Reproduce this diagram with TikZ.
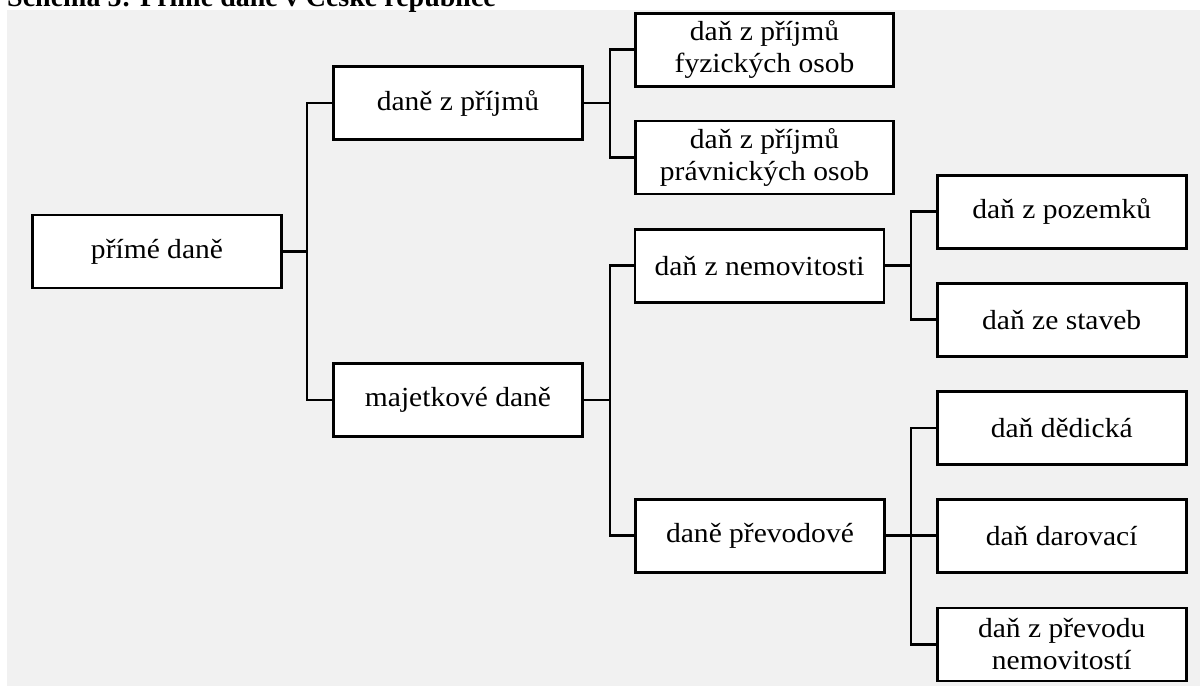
\documentclass[tikz,border=0pt]{standalone}
\usepackage{fontspec}
\setmainfont{Liberation Serif}
\newfontfamily\boxfont[FakeStretch=1.07]{Liberation Serif}
\definecolor{panel}{HTML}{F1F1F1}
\begin{document}
\begin{tikzpicture}[x=1pt,y=-1pt,
  box/.style={draw=black, line width=2.6pt, fill=white, minimum width=249pt,
    minimum height=73pt, align=center, inner sep=0pt,
    font=\boxfont\fontsize{27.6}{32}\selectfont},
  widebox/.style={box, minimum width=258pt},
  conn/.style={draw=black, line width=2.6pt},
  title/.style={anchor=base west, inner sep=0pt, font=\fontsize{28}{32}\selectfont\bfseries}]
\useasboundingbox (0,0) rectangle (1200,686);
\clip (0,0) rectangle (1200,686);
\fill[panel] (7,10) rectangle (1200,686);
\node[title] (heading) at (7,6.5) {Schéma 5: Přímé daně v České republice};

% branch spines
\coordinate (s1) at (307,0);
\coordinate (s2) at (610,0);
\coordinate (s3) at (911,0);

% boxes
\node[box] (root) at (157,251.5) {přímé daně};
\node[box] (prijmy) at (458,103) {daně z příjmů};
\node[box] (majetek) at (458,400) {majetkové daně};
\node[widebox] (fo) at (764.5,49.7) {daň z příjmů\\fyzických osob};
\node[widebox] (po) at (764.5,157.5) {daň z příjmů\\právnických osob};
\node[box] (nemov) at (759.5,265.7) {daň z nemovitosti};
\node[box] (prevod) at (760,535.7) {daně převodové};
\node[box] (pozemky) at (1061.7,211.7) {daň z pozemků};
\node[box] (stavby) at (1061.7,319.7) {daň ze staveb};
\node[box] (dedicka) at (1061.7,428) {daň dědická};
\node[box] (darovaci) at (1061.7,535.7) {daň darovací};
\node[box] (prevnem) at (1061.7,644.3) {daň z převodu\\nemovitostí};

% connectors
\draw[conn] (prijmy.west) -- (prijmy.west -| s1) |- (majetek.west);
\draw[conn] (root.east) -- (root.east -| s1);

\draw[conn] (fo.west) -- (fo.west -| s2) |- (po.west);
\draw[conn] (prijmy.east) -- (prijmy.east -| s2);

\draw[conn] (nemov.west) -- (nemov.west -| s2) |- (prevod.west);
\draw[conn] (majetek.east) -- (majetek.east -| s2);

\draw[conn] (pozemky.west) -- (pozemky.west -| s3) |- (stavby.west);
\draw[conn] (nemov.east) -- (nemov.east -| s3);

\draw[conn] (dedicka.west) -- (dedicka.west -| s3) |- (prevnem.west);
\draw[conn] (darovaci.west) -- (darovaci.west -| s3);
\draw[conn] (prevod.east) -- (prevod.east -| s3);
\end{tikzpicture}
\end{document}
